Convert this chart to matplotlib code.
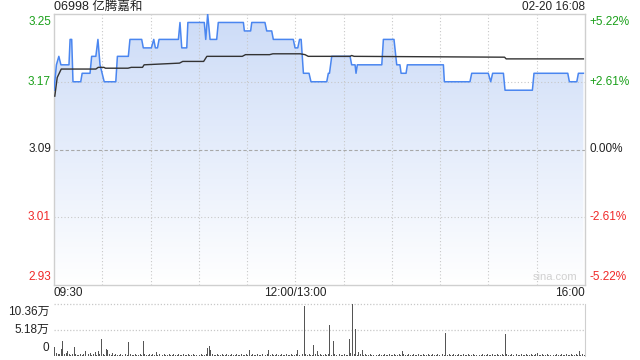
import numpy as np
import matplotlib
matplotlib.use("Agg")
import matplotlib.pyplot as plt
from matplotlib.patches import Polygon

plt.rcParams['font.family'] = ['Liberation Sans', 'Noto Sans CJK SC', 'DejaVu Sans']

title = "06998 亿腾嘉和"
stamp = "02-20 16:08"
prev_close = 3.09
price_ticks = [3.25, 3.17, 3.09, 3.01, 2.93]
pct_labels = ["+5.22%", "+2.61%", "0.00%", "-2.61%", "-5.22%"]
time_labels = ["09:30", "12:00/13:00", "16:00"]
vol_tick_labels = ["10.36万", "5.18万", "0"]
vol_ticks = [10.36, 5.18, 0]

# price line vertices: minutes since 09:30 (trading time), price
price_time = [0, 1.5, 3, 4.3, 9.3, 10, 11, 11.8, 16.6, 17.5,
              22.4, 23.4, 26, 27.3, 28.6, 31.2, 38.4, 39.4, 46.2, 47.2,
              54.5, 55.5, 60.5, 62, 63, 64.3, 65.3, 77.3, 78.3, 79.4,
              82.5, 83.2, 93.4, 94.3, 95.5, 97, 101.1, 102.1, 117.7, 118.3,
              122.2, 122.9, 131.1, 132.2, 135.3, 136.3, 148.7, 149.8, 151.5, 152.6,
              153.6, 155, 158.5, 159.7, 169.5, 170.5, 171.2, 172.6, 184, 185,
              187.1, 187.7, 188.5, 203.7, 204.7, 211.3, 213, 215, 215.7, 218.8,
              219.6, 242, 242.6, 258.5, 259.6, 269.9, 271.4, 272.6, 279.3, 280.3,
              297.3, 298.3, 319.3, 320.3, 324.9, 325.9, 329]
price_value = [3.16, 3.19, 3.20, 3.19, 3.19, 3.22, 3.22, 3.17, 3.17, 3.18,
               3.18, 3.20, 3.20, 3.22, 3.19, 3.17, 3.17, 3.20, 3.20, 3.22,
               3.22, 3.21, 3.21, 3.22, 3.21, 3.21, 3.22, 3.22, 3.24, 3.21,
               3.21, 3.24, 3.24, 3.22, 3.25, 3.22, 3.22, 3.24, 3.24, 3.23,
               3.23, 3.24, 3.24, 3.23, 3.23, 3.22, 3.22, 3.21, 3.21, 3.22,
               3.22, 3.18, 3.18, 3.17, 3.17, 3.18, 3.18, 3.20, 3.20, 3.19,
               3.19, 3.18, 3.19, 3.19, 3.22, 3.22, 3.19, 3.19, 3.18, 3.18,
               3.19, 3.19, 3.17, 3.17, 3.18, 3.18, 3.17, 3.18, 3.18, 3.16,
               3.16, 3.18, 3.18, 3.17, 3.17, 3.18, 3.18]

avg_time = [0.5, 2, 4.5, 26, 27.5, 31, 32, 46, 48, 55,
            56, 78, 80, 93, 95, 117, 119, 134, 136, 153,
            156, 158, 184, 185, 186.5, 280, 281, 329]
avg_value = [3.153, 3.175, 3.185, 3.185, 3.187, 3.187, 3.186, 3.186, 3.187, 3.187,
             3.190, 3.192, 3.194, 3.194, 3.200, 3.200, 3.202, 3.202, 3.203, 3.203,
             3.202, 3.200, 3.200, 3.201, 3.200, 3.199, 3.197, 3.197]

# volume per minute, in 万 shares
volume = [
    1.7, 0.5, 0.3, 0.3, 1.4, 2.9, 0.4, 0.5, 1.0, 0.3, 0.2, 0.3, 1.7, 0.3, 0.2, 0.2, 0.3, 0.2, 0.4, 1.0, 0.2, 0.3, 0.6, 0.2, 0.3, 0.7, 0.2, 1.0, 0.3, 3.4,
    0.3, 0.2, 1.4, 1.2, 0.3, 0.2, 0.6, 0.2, 0.3, 0.2, 0.2, 0.3, 0.2, 0.2, 0.3, 0.2, 2.7, 0.3, 0.2, 0.2, 0.3, 0.2, 0.2, 0.3, 0.2, 2.9, 0.3, 0.2, 0.2, 0.3,
    0.2, 0.3, 0.2, 0.7, 0.2, 0.3, 0.2, 0.2, 0.3, 0.2, 0.2, 0.3, 0.2, 0.2, 0.4, 0.2, 0.2, 0.3, 0.2, 0.2, 0.3, 0.2, 0.2, 0.3, 0.2, 0.2, 0.3, 0.2, 0.2, 0.3,
    0.2, 0.3, 0.2, 0.2, 0.3, 1.5, 1.9, 1.2, 0.3, 0.2, 0.2, 0.3, 0.2, 0.2, 0.3, 0.2, 0.2, 0.3, 0.2, 0.2, 0.3, 0.2, 0.2, 0.3, 0.2, 0.2, 0.3, 0.2, 0.2, 0.3,
    0.2, 1.2, 0.2, 0.3, 0.2, 0.2, 0.3, 0.2, 0.2, 0.3, 0.2, 0.2, 0.3, 1.2, 0.2, 0.3, 0.2, 0.2, 0.3, 0.2, 0.2, 0.3, 0.2, 0.2, 0.3, 0.2, 0.2, 0.3, 0.2, 0.2,
    0.3, 1.2, 0.2, 1.5, 0.3, 10.0, 0.3, 0.2, 0.3, 0.2, 0.2, 2.2, 0.3, 1.0, 0.2, 0.3, 0.2, 0.2, 0.3, 0.2, 0.3, 6.2, 0.2, 3.0, 0.3, 0.2, 0.2, 0.3, 0.2, 0.2,
    0.3, 0.2, 0.2, 3.4, 0.5, 10.36, 0.3, 5.4, 0.2, 0.7, 0.3, 1.2, 0.2, 0.3, 0.2, 0.2, 0.3, 0.2, 0.2, 0.3, 0.2, 0.2, 0.3, 0.2, 0.2, 0.3, 0.2, 0.2, 0.3, 0.2,
    0.2, 0.3, 0.2, 0.2, 0.3, 0.2, 1.0, 0.3, 0.2, 0.2, 0.3, 0.2, 0.2, 0.3, 0.2, 0.2, 0.3, 0.2, 0.2, 0.3, 0.2, 0.2, 0.3, 0.2, 0.2, 0.3, 0.2, 0.2, 0.3, 0.2,
    0.2, 0.3, 0.2, 4.6, 0.2, 0.3, 0.2, 0.2, 0.3, 0.2, 0.2, 0.3, 0.2, 0.2, 0.3, 0.2, 0.2, 0.3, 0.2, 0.2, 0.3, 0.2, 0.2, 0.3, 0.2, 0.2, 0.3, 0.2, 0.2, 0.3,
    0.2, 0.2, 0.3, 0.2, 0.2, 0.3, 0.2, 0.2, 0.3, 0.2, 4.4, 0.3, 0.2, 0.2, 0.3, 0.2, 0.2, 0.3, 0.2, 0.2, 0.3, 0.2, 0.2, 0.3, 0.2, 0.2, 0.3, 0.2, 0.2, 0.3,
    0.5, 0.2, 0.2, 0.3, 0.2, 0.2, 0.3, 0.2, 0.2, 0.3, 0.2, 0.2, 0.3, 0.2, 0.2, 0.3, 0.2, 0.2, 0.3, 0.2, 0.2, 0.3, 0.2, 0.2, 0.3, 0.2, 1.0, 0.2, 0.3, 0.2,
]

GREEN = '#1aa01a'
RED = '#f02828'
GRID = '#c8c8c8'
SPINE = '#cfcfcf'
TXT = '#222222'

W, H = 640, 360
fig = plt.figure(figsize=(6.4, 3.6), dpi=100)

def fx(px):
    return px / W

def fy(py):
    return 1 - py / H

L, R = 54, 585
T, B = 14, 285
ax = fig.add_axes([fx(L), fy(B), fx(R - L), (B - T) / H])
ax.set_xlim(0, 330)
ax.set_ylim(2.93, 3.25)

# gradient fill under price
pt = np.array(price_time)
pv = np.array(price_value)
poly_xy = np.column_stack([np.concatenate([[pt[0]], pt, [pt[-1]]]),
                           np.concatenate([[2.93], pv, [2.93]])])
poly = Polygon(poly_xy, closed=True, facecolor='none', edgecolor='none')
ax.add_patch(poly)
grad = np.linspace(1, 0, 256).reshape(-1, 1)
top_c = np.array([0.80, 0.86, 0.97])
bot_c = np.array([1.0, 1.0, 1.0])
img = grad[..., None] * top_c + (1 - grad[..., None]) * bot_c
im = ax.imshow(img, extent=[0, 330, 2.93, 3.25], aspect='auto', origin='upper', zorder=1)
im.set_clip_path(poly)

# grid
for m in range(30, 330, 30):
    ax.axvline(m, color=GRID, lw=0.8, ls=(0, (1, 2)), zorder=2)
for p in [3.17, 3.01]:
    ax.axhline(p, color=GRID, lw=0.8, ls=(0, (1, 2)), zorder=2)
ax.axhline(prev_close, color='#a8a8a8', lw=0.8, ls=(0, (3, 2)), zorder=2)

ax.plot(price_time, price_value, color='#4a86f0', lw=1.1, zorder=4)
ax.plot(avg_time, avg_value, color='#333333', lw=1.0, zorder=5)

ax.set_xticks([])
ax.set_yticks([])
for s in ax.spines.values():
    s.set_color(SPINE)
    s.set_linewidth(1.0)

fs = 8.5
# left price labels
lcolors = [GREEN, GREEN, TXT, RED, RED]
for p, c in zip(price_ticks, lcolors):
    va = 'center'
    y = p
    if p == price_ticks[0]:
        va = 'top'
    elif p == price_ticks[-1]:
        va = 'bottom'
    off = {'center': 0, 'top': -2, 'bottom': 2}[va]
    ax.annotate(f"{p:.2f}", xy=(0, p), xycoords=('axes fraction', 'data'),
                xytext=(-3, off), textcoords='offset pixels', ha='right', va=va,
                color=c, fontsize=fs)
for p, lab, c in zip(price_ticks, pct_labels, lcolors):
    va = 'center'
    if p == price_ticks[0]:
        va = 'top'
    elif p == price_ticks[-1]:
        va = 'bottom'
    off = {'center': 0, 'top': -2, 'bottom': 2}[va]
    ax.annotate(lab, xy=(1, p), xycoords=('axes fraction', 'data'),
                xytext=(4, off), textcoords='offset pixels', ha='left', va=va,
                color=c, fontsize=fs)

ax.text(0.985, 0.012, "sina.com", transform=ax.transAxes, ha='right', va='bottom',
        color='#d0d0d0', fontsize=8, zorder=6)

# time labels
fig.text(fx(L), fy(293), time_labels[0], ha='left', va='center', fontsize=fs, color=TXT)
fig.text(fx(L + (R - L) * 150 / 330), fy(293), time_labels[1], ha='center', va='center', fontsize=fs, color=TXT)
fig.text(fx(R), fy(293), time_labels[2], ha='right', va='center', fontsize=fs, color=TXT)

fig.text(fx(L), fy(7), title, ha='left', va='center', fontsize=9, color=TXT)
fig.text(fx(R), fy(7), stamp, ha='right', va='center', fontsize=8.5, color=TXT)

# volume axes
VT, VB = 304.3, 355.7
vax = fig.add_axes([fx(L), fy(VB), fx(R - L), (VB - VT) / H])
vax.set_xlim(0, 330)
vax.set_ylim(0, 10.36)
vax.bar(np.arange(len(volume)) + 0.5, volume, width=0.6, color='#555555', zorder=3)
for v in [10.36, 5.18]:
    vax.axhline(v, color=GRID, lw=0.9, ls=(0, (1, 1.5)), zorder=1, clip_on=False)
vax.set_xticks([])
vax.set_yticks([])
for k, s in vax.spines.items():
    if k == 'right':
        s.set_color(SPINE)
    else:
        s.set_visible(False)
for v, lab in zip(vol_ticks, vol_tick_labels):
    va = 'center'
    off = 0
    if v == vol_ticks[0]:
        va = 'top'; off = -2
    elif v == vol_ticks[-1]:
        va = 'bottom'; off = 2
    vax.annotate(lab, xy=(0, v), xycoords=('axes fraction', 'data'),
                 xytext=(-5, off), textcoords='offset pixels', ha='right', va=va,
                 color=TXT, fontsize=fs)

fig.savefig("out.png", dpi=100)
